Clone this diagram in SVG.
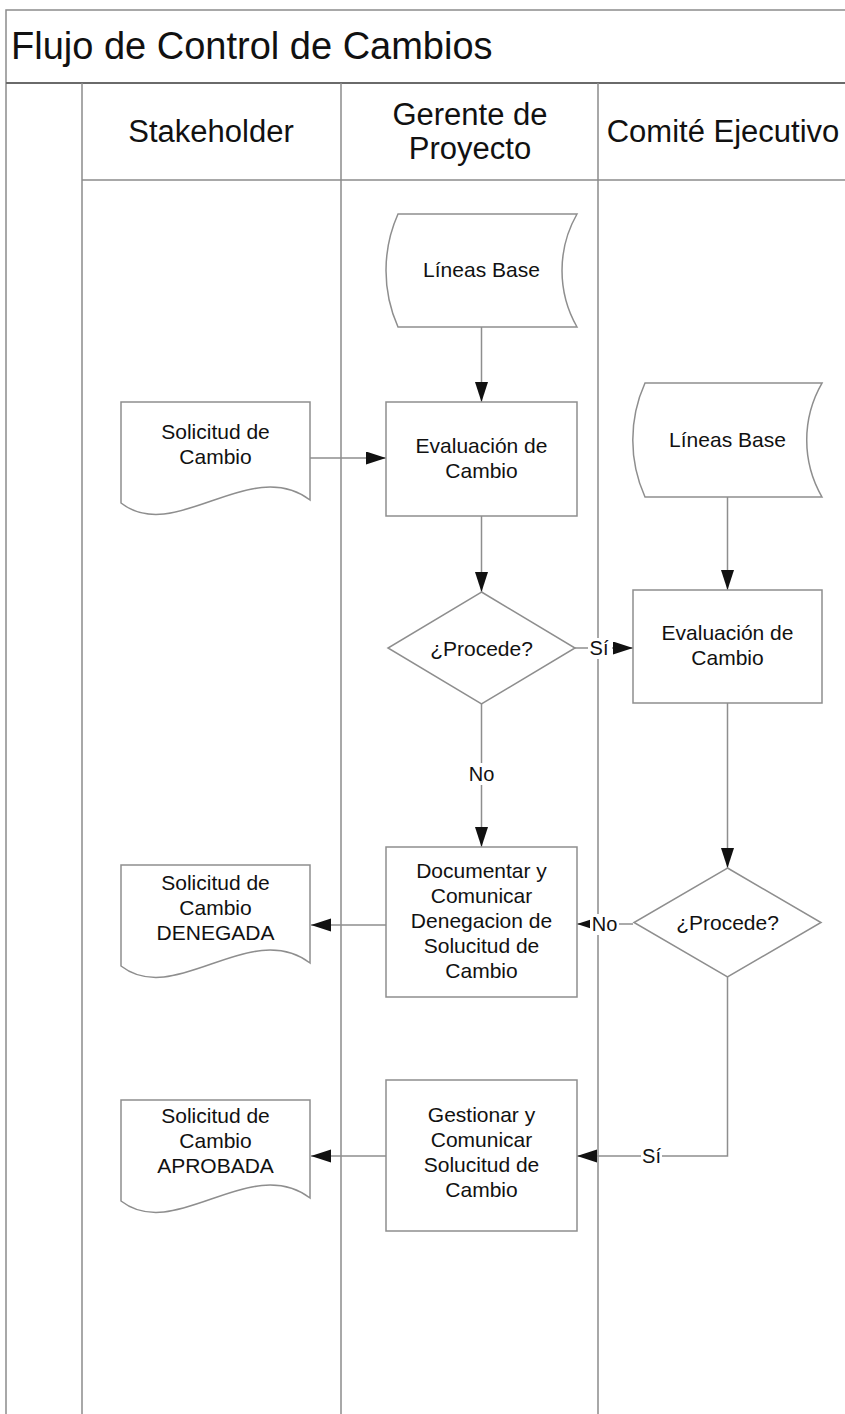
<svg xmlns="http://www.w3.org/2000/svg" width="845" height="1414" viewBox="0 0 845 1414">
  <style>
    .frame { fill: none; stroke: #8c8c8c; stroke-width: 1.5; }
    .sep { fill: none; stroke: #6a6a6a; stroke-width: 2.2; }
    .shape { fill: #ffffff; stroke: #8e8e8e; stroke-width: 1.5; }
    .conn { fill: none; stroke: #8e8e8e; stroke-width: 1.5; }
    .lbl-bg { fill: #ffffff; }
    text { font-family: "Liberation Sans", Arial, sans-serif; fill: #111111; }
    .title { font-size: 38px; }
    .head { font-size: 31px; text-anchor: middle; }
    .node { font-size: 21px; text-anchor: middle; }
    .lbl { font-size: 20px; text-anchor: middle; }
  </style>
  <defs>
    <marker id="arrow" markerUnits="userSpaceOnUse" markerWidth="20" markerHeight="14" refX="20" refY="6.5" orient="auto">
      <path d="M0,0 L20,6.5 L0,13 Z" fill="#111111"/>
    </marker>
  </defs>

  <rect width="845" height="1414" fill="#ffffff"/>

  <!-- pool frame, title band and swimlanes -->
  <g id="pool">
    <path class="frame" d="M6,1414 V10 H845"/>
    <text class="title" x="11" y="59">Flujo de Control de Cambios</text>
    <path class="sep" d="M6,83 H845"/>
    <path class="frame" d="M82,83 V1414 M341,83 V1414 M598,83 V1414 M82,180 H845"/>
    <text class="head" x="211" y="142">Stakeholder</text>
    <text class="head" x="470" y="125">Gerente de</text>
    <text class="head" x="470" y="159">Proyecto</text>
    <text class="head" x="723" y="142">Comité Ejecutivo</text>
  </g>

  <!-- connectors -->
  <g id="connectors">
    <path class="conn" d="M481.5,327 V402" marker-end="url(#arrow)"/>
    <path class="conn" d="M310,458 H386" marker-end="url(#arrow)"/>
    <path class="conn" d="M481.5,516 V592" marker-end="url(#arrow)"/>
    <path class="conn" d="M575,648 H633" marker-end="url(#arrow)"/>
    <path class="conn" d="M481.5,704 V847" marker-end="url(#arrow)"/>
    <path class="conn" d="M727.5,497 V590" marker-end="url(#arrow)"/>
    <path class="conn" d="M727.5,703 V868" marker-end="url(#arrow)"/>
    <path class="conn" d="M633,924 H577" marker-end="url(#arrow)"/>
    <path class="conn" d="M727.5,977 V1156 H577" marker-end="url(#arrow)"/>
    <path class="conn" d="M386,925 H311" marker-end="url(#arrow)"/>
    <path class="conn" d="M386,1156 H311" marker-end="url(#arrow)"/>

    <rect class="lbl-bg" x="588" y="638" width="24" height="21"/>
    <text class="lbl" x="599" y="655">Sí</text>
    <rect class="lbl-bg" x="467" y="763" width="29" height="22"/>
    <text class="lbl" x="481.5" y="781">No</text>
    <rect class="lbl-bg" x="590" y="914" width="29" height="21"/>
    <text class="lbl" x="604.5" y="931">No</text>
    <rect class="lbl-bg" x="641" y="1146" width="21" height="21"/>
    <text class="lbl" x="651.5" y="1163">Sí</text>
  </g>

  <!-- Stakeholder lane -->
  <g id="solicitud">
    <path class="shape" d="M121,402 H310 V500 C250,455 175,545 121,503 Z"/>
    <text class="node" x="215.5" y="439">Solicitud de</text>
    <text class="node" x="215.5" y="464">Cambio</text>
  </g>
  <g id="solicitud-denegada">
    <path class="shape" d="M121,865 H310 V963 C250,918 175,1008 121,966 Z"/>
    <text class="node" x="215.5" y="890">Solicitud de</text>
    <text class="node" x="215.5" y="915">Cambio</text>
    <text class="node" x="215.5" y="940">DENEGADA</text>
  </g>
  <g id="solicitud-aprobada">
    <path class="shape" d="M121,1100 H310 V1198 C250,1153 175,1243 121,1201 Z"/>
    <text class="node" x="215.5" y="1123">Solicitud de</text>
    <text class="node" x="215.5" y="1148">Cambio</text>
    <text class="node" x="215.5" y="1173">APROBADA</text>
  </g>

  <!-- Gerente de Proyecto lane -->
  <g id="lineas-base-gp">
    <path class="shape" d="M398,214 H577 A114,114 0 0 0 577,327 H398 A139,139 0 0 1 398,214 Z"/>
    <text class="node" x="481.5" y="277">Líneas Base</text>
  </g>
  <g id="evaluacion-gp">
    <rect class="shape" x="386" y="402" width="191" height="114"/>
    <text class="node" x="481.5" y="453">Evaluación de</text>
    <text class="node" x="481.5" y="478">Cambio</text>
  </g>
  <g id="procede-gp">
    <path class="shape" d="M481.5,592 L575,648 L481.5,704 L388,648 Z"/>
    <text class="node" x="481.5" y="656">¿Procede?</text>
  </g>
  <g id="documentar">
    <rect class="shape" x="386" y="847" width="191" height="150"/>
    <text class="node" x="481.5" y="878">Documentar y</text>
    <text class="node" x="481.5" y="903">Comunicar</text>
    <text class="node" x="481.5" y="928">Denegacion de</text>
    <text class="node" x="481.5" y="953">Solucitud de</text>
    <text class="node" x="481.5" y="978">Cambio</text>
  </g>
  <g id="gestionar">
    <rect class="shape" x="386" y="1080" width="191" height="151"/>
    <text class="node" x="481.5" y="1122">Gestionar y</text>
    <text class="node" x="481.5" y="1147">Comunicar</text>
    <text class="node" x="481.5" y="1172">Solucitud de</text>
    <text class="node" x="481.5" y="1197">Cambio</text>
  </g>

  <!-- Comité Ejecutivo lane -->
  <g id="lineas-base-ce">
    <path class="shape" d="M645,383 H822 A114,114 0 0 0 822,497 H645 A139,139 0 0 1 645,383 Z"/>
    <text class="node" x="727.5" y="447">Líneas Base</text>
  </g>
  <g id="evaluacion-ce">
    <rect class="shape" x="633" y="590" width="189" height="113"/>
    <text class="node" x="727.5" y="640">Evaluación de</text>
    <text class="node" x="727.5" y="665">Cambio</text>
  </g>
  <g id="procede-ce">
    <path class="shape" d="M727.5,868 L821,922.5 L727.5,977 L634,922.5 Z"/>
    <text class="node" x="727.5" y="930">¿Procede?</text>
  </g>
</svg>
